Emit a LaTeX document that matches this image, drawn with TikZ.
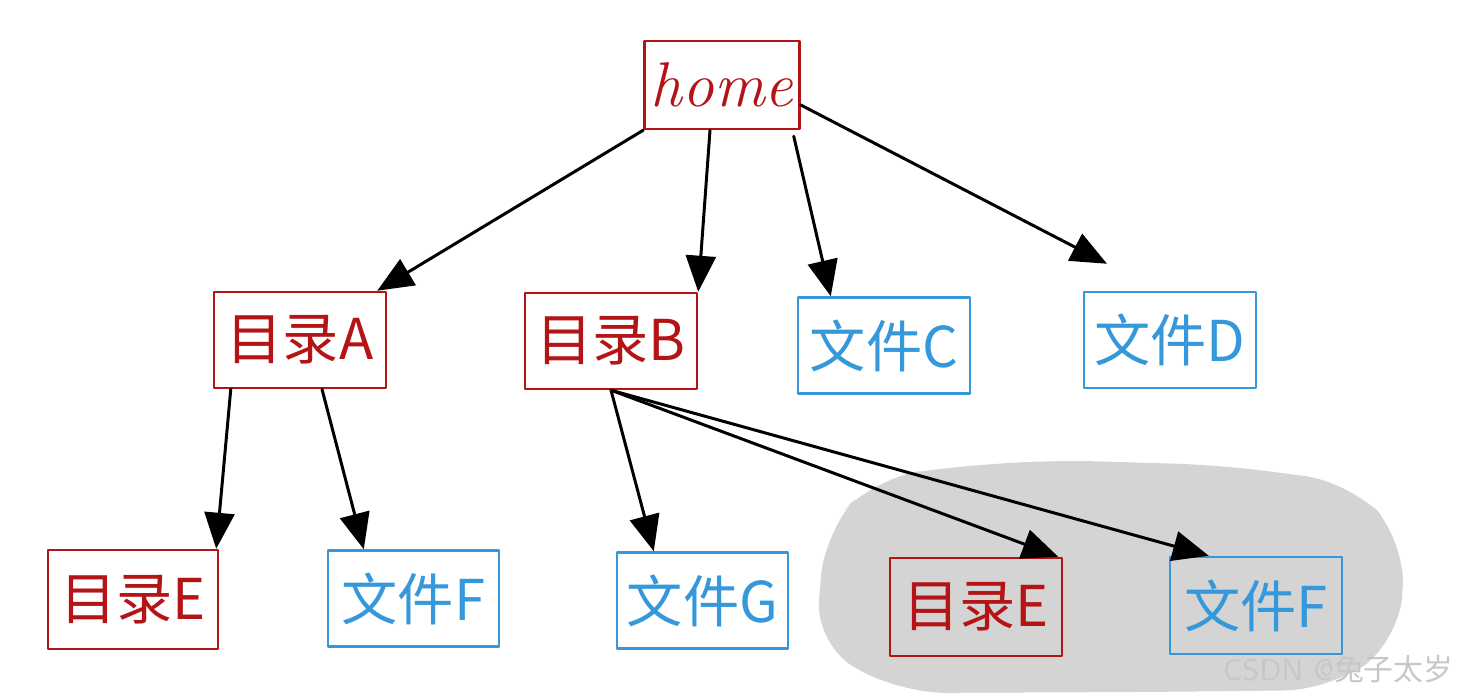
\documentclass[tikz,border=0pt]{standalone}
\usepackage{fontspec}
\newfontfamily\cjk{Noto Sans CJK SC}
\usetikzlibrary{arrows.meta}
\definecolor{dirred}{RGB}{180,20,22}
\definecolor{fileblue}{RGB}{52,152,219}
\definecolor{cloudgray}{RGB}{212,212,212}
\begin{document}
\begin{tikzpicture}[line join=round, line cap=round, >={Triangle[length=0.36cm,width=0.3cm]},
	box/.style={draw, line width=0.7pt, minimum width=1.72cm, minimum height=0.96cm, inner sep=0pt, font=\cjk\fontsize{16}{18}\selectfont},
	dir/.style={box, draw=dirred, text=dirred},
	file/.style={box, draw=fileblue, text=fileblue},
	link/.style={->, line width=0.85pt}]
	\useasboundingbox (0,0) rectangle (14.7,-6.97);
	% grauer Bereich
	\fill[cloudgray, rounded corners=0.45cm] (8.15,-6.45) -- (8.25,-5.3) -- (8.75,-4.78) -- (9.4,-4.68)
		-- (10.5,-4.6) -- (12.2,-4.65) -- (13.5,-4.82) -- (14.05,-5.4) -- (14.0,-6.4)
		-- (13.3,-6.9) -- (11.5,-6.92) -- (9.0,-6.93) -- cycle;
	% Knoten
	\node[dir, minimum width=1.55cm, minimum height=0.88cm, font=\fontsize{18}{20}\selectfont\itshape] (home) at (7.22,-0.85) {home};
	\node[dir] (dA) at (3.00,-3.40) {目录A};
	\node[dir] (dB) at (6.11,-3.41) {目录B};
	\node[file] (fC) at (8.84,-3.455) {文件C};
	\node[file] (fD) at (11.70,-3.40) {文件D};
	\node[dir, minimum width=1.70cm, minimum height=0.99cm] (dE) at (1.33,-5.995) {目录E};
	\node[file, minimum width=1.71cm] (fF) at (4.135,-5.985) {文件F};
	\node[file, minimum width=1.71cm] (fG) at (7.025,-6.005) {文件G};
	\node[dir, minimum height=0.98cm] (dE2) at (9.76,-6.07) {目录E};
	\node[file, minimum height=0.97cm] (fF2) at (12.56,-6.055) {文件F};
	\coordinate (tipD) at ([xshift=-0.63cm,yshift=0.27cm]fD.north);
	% Pfeile
	\draw[link] (home.south west) -- ([xshift=-0.1cm]dA.north east);
	\draw[link] ([xshift=-0.12cm]home.south) -- (dB.north east);
	\draw[link] ([xshift=-0.07cm,yshift=-0.06cm]home.south east) -- ([xshift=0.34cm]fC.north west);
	\draw[link] ([yshift=-0.2cm]home.east) -- (tipD);
	\draw[link] ([xshift=0.18cm]dA.south west) -- ([xshift=-0.03cm]dE.north east);
	\draw[link] ([xshift=0.22cm]dA.south) -- ([xshift=0.37cm]fF.north west);
	\draw[link] (dB.south) -- ([xshift=0.38cm]fG.north west);
	\draw[link] (dB.south) -- ([xshift=-0.05cm]dE2.north east);
	\draw[link] (dB.south) -- ([xshift=0.4cm]fF2.north west);
	% Wasserzeichen
	\node[text=black!22, font=\fontsize{8.5}{10}\selectfont\sffamily, anchor=east] (wm) at (14.66,-6.69) {CSDN @{\cjk 兔子太岁}};
\end{tikzpicture}
\end{document}
